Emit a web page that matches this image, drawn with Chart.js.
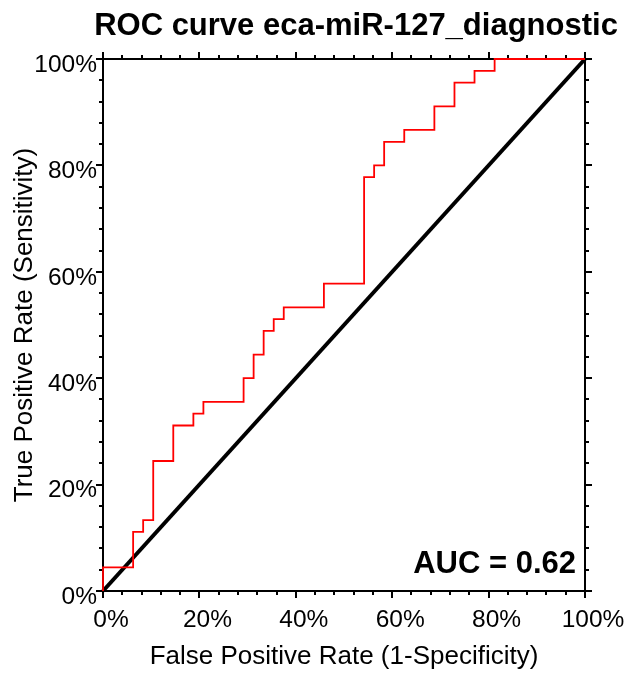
<!DOCTYPE html>
<html>
<head>
<meta charset="utf-8">
<script src="https://cdn.jsdelivr.net/npm/chart.js@4"></script>
<style>
  html,body{margin:0;padding:0;background:#fff;}
  #wrap{width:632px;height:674px;position:relative;}
</style>
</head>
<body>
<div id="wrap"><canvas id="roc"></canvas></div>
<script>
// ===== Data =====
const chartTitle = "ROC curve eca-miR-127_diagnostic";
const aucLabel = "AUC = 0.62";
// ROC points (percent)
const fpr = [0, 0, 6.25, 8.33, 10.42, 14.58, 18.75, 20.83, 29.17, 31.25, 33.33, 35.42, 37.5, 45.83, 54.17, 56.25, 58.33, 62.5, 68.75, 72.92, 77.08, 81.25, 100];
const tpr = [0, 4.44, 11.11, 13.33, 24.44, 31.11, 33.33, 35.56, 40, 44.44, 48.89, 51.11, 53.33, 57.78, 77.78, 80, 84.44, 86.67, 91.11, 95.56, 97.78, 100, 100];
const refX = [0, 100];
const refY = [0, 100];
const majorTicks = [0, 20, 40, 60, 80, 100];
const minorStep = 4;

const FONT = "'Liberation Sans', Arial, sans-serif";

// ===== Box + ticks on all four sides (under the lines) =====
const frame = {
  id: "frame",
  beforeDatasetsDraw(chart){
    const {ctx, chartArea:a, scales} = chart;
    const xs = scales.x, ys = scales.y;
    ctx.save();
    ctx.strokeStyle = "#000";
    ctx.lineWidth = 2;
    ctx.beginPath();
    ctx.rect(a.left, a.top, a.right - a.left, a.bottom - a.top);
    ctx.stroke();
    ctx.beginPath();
    for(let v = 0; v <= 100; v += minorStep){
      const len = majorTicks.includes(v) ? 7 : 4;
      const px = Math.round(xs.getPixelForValue(v));
      const py = Math.round(ys.getPixelForValue(v));
      ctx.moveTo(px, a.bottom); ctx.lineTo(px, a.bottom + len);
      ctx.moveTo(px, a.top); ctx.lineTo(px, a.top - len);
      ctx.moveTo(a.left, py); ctx.lineTo(a.left - len, py);
      ctx.moveTo(a.right, py); ctx.lineTo(a.right + len, py);
    }
    ctx.stroke();
    ctx.restore();
  },
  afterDraw(chart){
    const ctx = chart.ctx;
    ctx.save();
    ctx.fillStyle = "#000";
    ctx.font = "bold 31px " + FONT;
    ctx.textAlign = "center";
    ctx.textBaseline = "alphabetic";
    ctx.fillText(chartTitle, 356, 35);
    ctx.textAlign = "right";
    ctx.fillText(aucLabel, 576, 573);
    ctx.restore();
  }
};

new Chart(document.getElementById("roc"), {
  type: "line",
  data: {
    datasets: [
      {
        label: "ROC",
        data: fpr.map((x,i)=>({x:x, y:tpr[i]})),
        borderColor: "#ff0000",
        borderWidth: 1.8,
        pointRadius: 0,
        stepped: "before",
        fill: false,
        clip: 4,
        order: 1
      },
      {
        label: "Reference",
        data: refX.map((x,i)=>({x:x, y:refY[i]})),
        borderColor: "#000",
        borderWidth: 4,
        pointRadius: 0,
        fill: false,
        clip: 4,
        order: 2
      }
    ]
  },
  options: {
    responsive: true,
    maintainAspectRatio: false,
    animation: false,
    layout: { padding: { top: 59, right: 47, left: 0, bottom: 0 } },
    plugins: {
      legend: { display: false },
      tooltip: { enabled: false }
    },
    scales: {
      x: {
        type: "linear",
        min: 0, max: 100,
        afterFit: s => { s.height = 83; },
        grid: { display: false, drawTicks: false },
        border: { display: false },
        ticks: {
          stepSize: 20,
          padding: 15,
          labelOffset: 8,
          color: "#000",
          font: { family: FONT, size: 24.5 },
          callback: v => v + "%"
        },
        title: {
          display: true,
          text: "False Positive Rate (1-Specificity)",
          color: "#000",
          font: { family: FONT, size: 26 },
          padding: { top: 0, bottom: 1.5 }
        }
      },
      y: {
        type: "linear",
        min: 0, max: 100,
        afterFit: s => { s.width = 103; },
        grid: { display: false, drawTicks: false },
        border: { display: false },
        ticks: {
          stepSize: 20,
          padding: 6,
          labelOffset: 6,
          color: "#000",
          font: { family: FONT, size: 24.5 },
          callback: v => v + "%"
        },
        title: {
          display: true,
          text: "True Positive Rate (Sensitivity)",
          color: "#000",
          font: { family: FONT, size: 26 },
          padding: { top: 9.5, bottom: 0 }
        }
      }
    }
  },
  plugins: [frame]
});
</script>
</body>
</html>
